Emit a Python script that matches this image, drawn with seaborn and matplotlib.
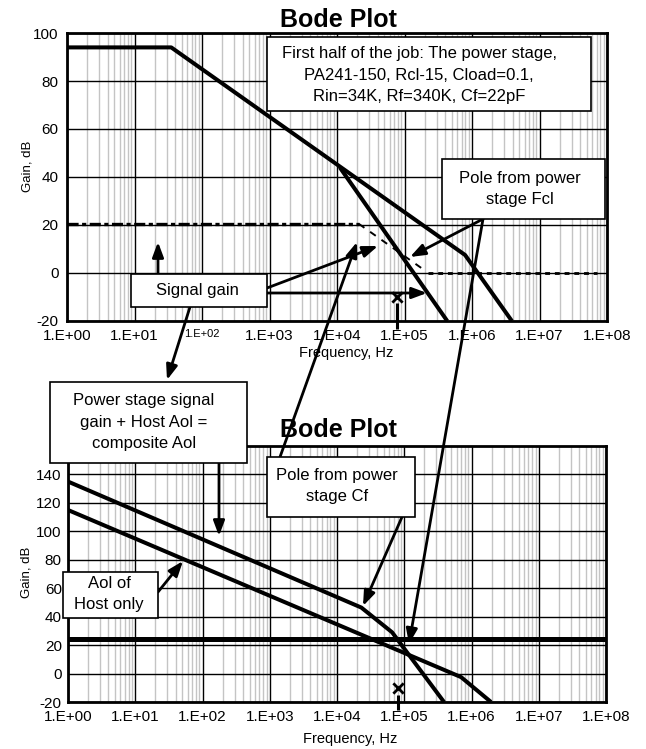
import numpy as np
import pandas as pd
import matplotlib
matplotlib.use("Agg")
import matplotlib.pyplot as plt
import seaborn as sns
from matplotlib.patches import Rectangle, FancyArrowPatch
from matplotlib.ticker import LogLocator, NullFormatter

# ---------------- data ----------------
# upper chart: power stage
top_aol_freq = [1, 35, 7.9e5, 3.9e6]
top_aol_gain = [94, 94, 7.5, -20]
top_cf_freq = [1.1e4, 4.3e5]
top_cf_gain = [44, -20]
sig_flat_freq = [1, 2.1e4]
sig_flat_gain = [20.5, 20.5]
sig_roll_freq = [2.1e4, 1.9e5]
sig_roll_gain = [20.5, 1.5]
sig_unity_freq = [2.2e5, 7e7]
sig_unity_gain = [0, 0]
top_mark_freq = [7.8e4]
top_mark_gain = [-10]

# lower chart: composite
bot_comp_freq = [1, 2.3e4, 6.6e4, 3.9e5]
bot_comp_gain = [135, 46.4, 29, -20]
bot_host_freq = [1, 7e5, 1.95e6]
bot_host_gain = [115, -2.5, -20]
bot_sig_freq = [1, 1e8]
bot_sig_gain = [24, 24]
bot_mark_freq = [8.0e4]
bot_mark_gain = [-10]

decades = list(range(0, 9))
x_tick_labels = [f"1.E+{d:02d}" for d in decades]
top_yticks = list(range(-20, 101, 20))
bot_yticks = list(range(-20, 141, 20))

title_text = "Bode Plot"
xlabel_text = "Frequency, Hz"
ylabel_text = "Gain, dB"
info_text = "First half of the job: The power stage,\nPA241-150, Rcl-15, Cload=0.1,\nRin=34K, Rf=340K, Cf=22pF"
fcl_text = "Pole from power\nstage Fcl"
signal_text = "Signal gain"
comp_text = "Power stage signal\ngain + Host Aol =\ncomposite Aol"
cf_text = "Pole from power\nstage Cf"
host_text = "Aol of\nHost only"

# ---------------- style ----------------
sns.set_theme(style="white")
plt.rcParams["font.family"] = ["Liberation Sans", "DejaVu Sans"]
plt.rcParams["lines.scale_dashes"] = False
plt.rcParams["lines.solid_capstyle"] = "butt"
plt.rcParams["axes.unicode_minus"] = False

W, H = 646, 749
fig = plt.figure(figsize=(W / 100, H / 100), dpi=100)
fig.patch.set_facecolor("white")


def fx(px):
    return px / W


def fy(py):
    return 1 - py / H


ax1 = fig.add_axes([fx(67), fy(321), (607 - 67) / W, (321 - 33) / H])
ax2 = fig.add_axes([fx(68), fy(702), (606 - 68) / W, (702 - 446) / H])


def setup(ax, yticks, ylim, ypad):
    ax.set_xscale("log")
    ax.set_xlim(1, 1e8)
    ax.set_ylim(*ylim)
    ax.set_xticks([10.0 ** d for d in decades], labels=x_tick_labels)
    ax.xaxis.set_minor_locator(LogLocator(base=10, subs=np.arange(2, 10), numticks=200))
    ax.xaxis.set_minor_formatter(NullFormatter())
    ax.set_yticks(yticks)
    ax.set_axisbelow(True)
    ax.grid(which="minor", axis="x", color="#c4c4c4", lw=1.0, zorder=0)
    ax.grid(which="major", color="black", lw=1.0, zorder=0.5)
    ax.tick_params(which="both", length=0)
    ax.tick_params(axis="x", labelsize=11, pad=6, colors="black")
    ax.tick_params(axis="y", labelsize=11, pad=ypad, colors="black")
    for s in ax.spines.values():
        s.set_visible(True)
        s.set_color("black")
        s.set_linewidth(2.0)
    ax.set_facecolor("white")


setup(ax1, top_yticks, (-20, 100), 6)
setup(ax2, bot_yticks, (-20, 160), 4.5)

# smaller 1.E+02 label in the upper chart, as in the reference
ax1.get_xticklabels()[2].set_fontsize(8)

# ---------------- upper chart lines ----------------
K = "black"
sns.lineplot(x=top_aol_freq, y=top_aol_gain, ax=ax1, color=K, lw=2.9, estimator=None, sort=False, zorder=3)
sns.lineplot(x=top_cf_freq, y=top_cf_gain, ax=ax1, color=K, lw=2.9, estimator=None, sort=False, zorder=3)
sns.lineplot(x=sig_flat_freq, y=sig_flat_gain, ax=ax1, color=K, lw=2.4, estimator=None, sort=False,
             linestyle=(0, (8, 2.5, 3, 2.5)), zorder=3)
sns.lineplot(x=sig_roll_freq, y=sig_roll_gain, ax=ax1, color=K, lw=1.4, estimator=None, sort=False,
             linestyle=(0, (5, 5)), zorder=3)
sns.lineplot(x=sig_unity_freq, y=sig_unity_gain, ax=ax1, color=K, lw=2.0, estimator=None, sort=False,
             linestyle=(0, (3.5, 3.5)), zorder=3)
sns.scatterplot(x=top_mark_freq, y=top_mark_gain, ax=ax1, marker="x", s=55, color=K, linewidth=2, zorder=4)
ax1.plot([top_mark_freq[0]] * 2, [-12.5, -23.5], color=K, lw=2.2, clip_on=False, zorder=4)

# ---------------- lower chart lines ----------------
sns.lineplot(x=bot_comp_freq, y=bot_comp_gain, ax=ax2, color=K, lw=2.9, estimator=None, sort=False, zorder=3)
sns.lineplot(x=bot_host_freq, y=bot_host_gain, ax=ax2, color=K, lw=2.9, estimator=None, sort=False, zorder=3)
sns.lineplot(x=bot_sig_freq, y=bot_sig_gain, ax=ax2, color=K, lw=3.6, estimator=None, sort=False, zorder=3)
sns.scatterplot(x=bot_mark_freq, y=bot_mark_gain, ax=ax2, marker="x", s=55, color=K, linewidth=2, zorder=4)
ax2.plot([bot_mark_freq[0]] * 2, [-15, -25.5], color=K, lw=2.2, clip_on=False, zorder=4)

# ---------------- labels & titles ----------------
for ax, xl, yl in ((ax1, (0.517, -0.111), (-0.074, 0.538)), (ax2, (0.525, -0.1445), (-0.0763, 0.508))):
    ax.set_xlabel(xlabel_text, fontsize=10.5, color=K)
    ax.set_ylabel(ylabel_text, fontsize=9.5, color=K)
    ax.xaxis.set_label_coords(*xl)
    ax.yaxis.set_label_coords(*yl)
    ax.xaxis.label.set_va("center")
    ax.yaxis.label.set_va("center")
    ax.yaxis.label.set_ha("center")

fig.text(fx(338), fy(27), title_text, fontsize=18, fontweight="bold", ha="center", va="baseline", color=K)
fig.text(fx(338), fy(437), title_text, fontsize=18, fontweight="bold", ha="center", va="baseline", color=K)


# ---------------- annotation boxes & arrows ----------------
def box(x0, y0, x1, y1, text, tx, ty):
    fig.add_artist(Rectangle((fx(x0), fy(y1)), (x1 - x0) / W, (y1 - y0) / H, transform=fig.transFigure,
                             facecolor="white", edgecolor=K, lw=1.2, zorder=11))
    fig.text(fx(tx), fy(ty), text, fontsize=12, ha="center", va="center", multialignment="center",
             linespacing=1.55, color=K, zorder=12)


def arrow(x0, y0, x1, y1):
    fig.add_artist(FancyArrowPatch((fx(x0), fy(y0)), (fx(x1), fy(y1)), transform=fig.transFigure,
                                   arrowstyle="-|>,head_length=0.75,head_width=0.28", mutation_scale=12,
                                   lw=2.0, color=K, shrinkA=0, shrinkB=0, zorder=10))


arrow(158, 274, 158, 242)
arrow(267, 288, 378, 246)
arrow(267, 293, 427, 293)
arrow(280, 457, 357, 242)
arrow(483, 219, 410, 257)
arrow(483, 219, 409, 644)
arrow(190, 307, 167, 380)
arrow(219, 463, 219, 536)
arrow(402, 517, 363, 606)
arrow(158, 592, 183, 561)

box(267, 37, 591, 111, info_text, 419, 75)
box(442, 159, 605, 219, fcl_text, 520, 189)
box(131, 274, 267, 307, signal_text, 197, 290)
box(50, 382, 247, 463, comp_text, 144, 422)
box(267, 457, 415, 517, cf_text, 337, 486)
box(63, 572, 158, 618, host_text, 109, 594)

fig.savefig("out.png", dpi=100, facecolor="white")
